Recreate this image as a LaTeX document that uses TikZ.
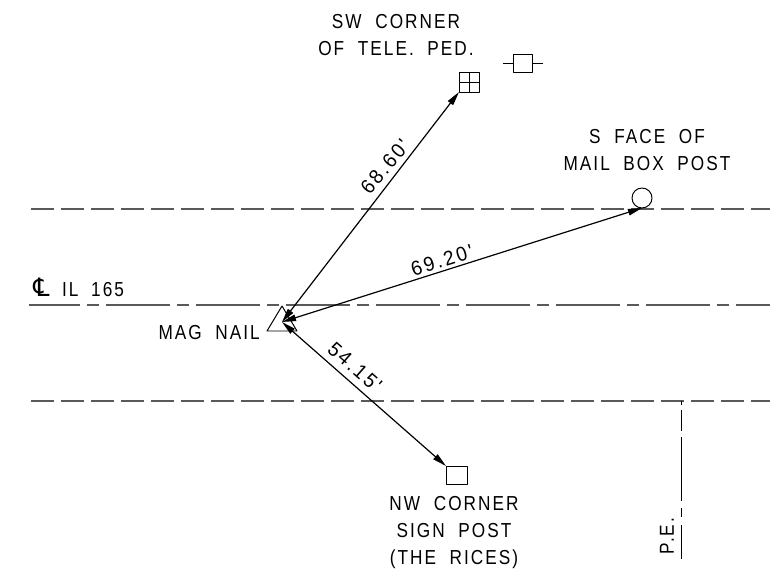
\documentclass[tikz,border=0pt]{standalone}
\usepackage{fontspec}
\setmainfont[FakeStretch=0.85,LetterSpace=10,WordSpace=2]{Liberation Sans}
\newfontfamily\clfont{DejaVu Sans}
\newfontfamily\dimfont[FakeStretch=0.95,LetterSpace=12]{Liberation Sans}
\usepackage{tikz}
\usetikzlibrary{arrows.meta}
\tikzset{
  note/.style={font=\fontsize{14.4}{19.2}\selectfont,align=center,inner sep=0pt},
  dimnote/.style={font=\dimfont\fontsize{14.4}{19.2}\selectfont,inner sep=0pt},
  tie/.style={line width=0.85pt,{Triangle[length=10pt,width=4.6pt]}-{Triangle[length=10pt,width=4.6pt]}},
  thing/.style={draw,line width=0.7pt,inner sep=0pt,outer sep=0pt},
  edgeline/.style={line width=1pt,black!65,dash pattern=on 16pt off 5.34pt},
  centerline/.style={line width=1pt,black!65,dash pattern=on 45.5pt off 5pt on 8.5pt off 5pt}
}
\begin{document}
\begin{tikzpicture}[line cap=butt,line join=round,x=0.025cm,y=-0.025cm]
\useasboundingbox (0,0) rectangle (775,571);

\coordinate (edgeTopL) at (31,209);
\coordinate (edgeTopR) at (770,209);
\coordinate (edgeBotL) at (31,401);
\coordinate (edgeBotR) at (770,401);
\coordinate (clL) at (29,305);
\coordinate (clR) at (770,305);
\coordinate (peTop) at (681,401);
\coordinate (peBot) at (681,559);
\draw [edgeline] (edgeTopL)-- (edgeTopR);
\draw [edgeline] (edgeBotL)-- (edgeBotR);
\draw [centerline,dash phase=9.25pt] (clL)-- (clR);
\draw [line width=0.7pt,dash pattern=on 3pt off 3.5pt on 15pt off 4.3pt on 45.5pt off 5pt on 6.4pt off 5.7pt on 24.2pt] (peTop)-- (peBot);

% mag nail
\coordinate (nail) at (282,322);
\coordinate (nailA) at (282,306);
\coordinate (nailB) at (267,331);
\coordinate (nailC) at (297,331);
\draw [line width=0.7pt] (nailB)-- (nailA)-- (nailC)-- cycle;

% objects
\node [thing,minimum width=20pt*0.711,minimum height=20pt*0.711] (ped) at (469,82) {};
\draw [line width=0.7pt] (ped.north)-- (ped.south);
\draw [line width=0.7pt] (ped.west)-- (ped.east);
\node [thing,minimum width=19pt*0.711,minimum height=18pt*0.711] (box) at (522.5,63) {};
\coordinate (boxL) at (503,63);
\coordinate (boxR) at (543,63);
\draw [line width=0.7pt] (boxL)-- (box.west);
\draw [line width=0.7pt] (box.east)-- (boxR);
\node [thing,circle,minimum size=20pt*0.711] (mailbox) at (642,198) {};
\node [thing,minimum width=21pt*0.711,minimum height=18pt*0.711] (sign) at (456.5,475) {};

% ties
\draw [tie] (nail)-- (ped.south west);
\draw [tie] (nail)-- (mailbox.south);
\draw [tie] (nail)-- (sign.north west);

% labels
\node [note] (swLabel) at (396,35.5) {SW CORNER\\OF TELE. PED.};
\node [note] (mailLabel) at (647,150) {S FACE OF\\MAIL BOX POST};
\node [note,anchor=east] (nailLabel) at (260,333) {MAG NAIL};
\node [note,anchor=base west] (clLabel) at (33,296) {{\clfont\fontsize{18}{18}\selectfont ℄}\hspace{9pt}IL\hspace{9pt}165};
\node [note] (signLabel) at (454,533) {NW CORNER\\SIGN POST\\(THE RICES)};
\node [note,rotate=90] (peLabel) at (667,536) {P.E.};
\node [dimnote,rotate=50] (dimPed) at (385,167) {68.60'};
\node [dimnote,rotate=17.6] (dimMail) at (442,260) {69.20'};
\node [dimnote,rotate=-41.3] (dimSign) at (355,367) {54.15'};
\end{tikzpicture}
\end{document}
